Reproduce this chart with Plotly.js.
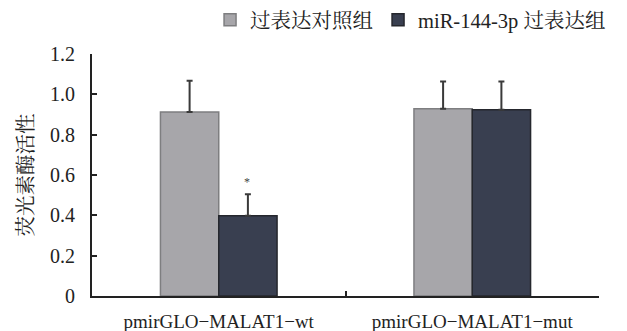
<!DOCTYPE html>
<html><head><meta charset="utf-8">
<script src="https://cdn.plot.ly/plotly-3.0.1.min.js"></script>
<style>html,body{margin:0;padding:0;background:#fff}</style>
</head><body><div id="chart" style="width:627px;height:331px"></div>
<script>
const categories = ["pmirGLO−MALAT1−wt", "pmirGLO−MALAT1−mut"];
const seriesNames = ["过表达对照组", "miR-144-3p 过表达组"];
const controlValues = [0.912, 0.928];
const controlErrors = [0.155, 0.136];
const miRValues = [0.398, 0.923];
const miRErrors = [0.107, 0.141];
const yTickVals = [0, 0.2, 0.4, 0.6, 0.8, 1.0, 1.2];
const yTickText = ["0", "0.2", "0.4", "0.6", "0.8", "1.0", "1.2"];
const yTitle = "荧光素酶活性";
const starLabel = "*";

const font = "'Liberation Serif', 'Times New Roman', 'Noto Serif CJK SC', 'Noto Sans CJK SC', serif";
const errStyle = {type: "data", symmetric: false, thickness: 2, width: 3, color: "#3a3a3a"};

const traces = [
  {type: "bar", name: seriesNames[0], x: categories, y: controlValues,
   marker: {color: "#a7a6aa", line: {color: "#7e7e80", width: 1.5}},
   error_y: Object.assign({array: controlErrors, arrayminus: controlValues.map(() => 0)}, errStyle)},
  {type: "bar", name: seriesNames[1], x: categories, y: miRValues,
   marker: {color: "#393f50", line: {color: "#25272d", width: 1.5}},
   error_y: Object.assign({array: miRErrors, arrayminus: miRValues.map(() => 0)}, errStyle)}
];

const layout = {
  width: 627, height: 331,
  margin: {l: 92, r: 28, t: 54, b: 35},
  paper_bgcolor: "#fff", plot_bgcolor: "#fff",
  font: {family: font, size: 19, color: "#222"},
  barmode: "group", bargap: 0.54, bargroupgap: 0,
  showlegend: true,
  legend: {orientation: "h", xref: "container", yref: "container",
           x: 0.335, xanchor: "left", y: 0.94, yanchor: "middle",
           font: {family: font, size: 20.5, color: "#222"}, itemwidth: 30, traceorder: "normal"},
  xaxis: {type: "category", showline: true, linecolor: "#222", linewidth: 2, automargin: false,
          ticks: "inside", ticklen: 5, tickwidth: 2, tickcolor: "#222", tickson: "boundaries",
          showgrid: false, zeroline: false, tickfont: {size: 19}, ticklabelstandoff: 7},
  yaxis: {range: [0, 1.2], showline: true, linecolor: "#222", linewidth: 2, automargin: false,
          ticks: "inside", ticklen: 5, tickwidth: 2, tickcolor: "#222",
          tickvals: yTickVals, ticktext: yTickText, showgrid: false, zeroline: false,
          ticklabelstandoff: 11, tickfont: {size: 20},
          title: {text: yTitle, font: {size: 20.5}, standoff: 11}},
  annotations: [{x: categories[0], y: miRValues[0] + miRErrors[0], xshift: 28, yshift: 12,
                 text: starLabel, showarrow: false, font: {size: 12, color: "#444"}}]
};
Plotly.newPlot("chart", traces, layout, {displayModeBar: false, staticPlot: true});
</script></body></html>
